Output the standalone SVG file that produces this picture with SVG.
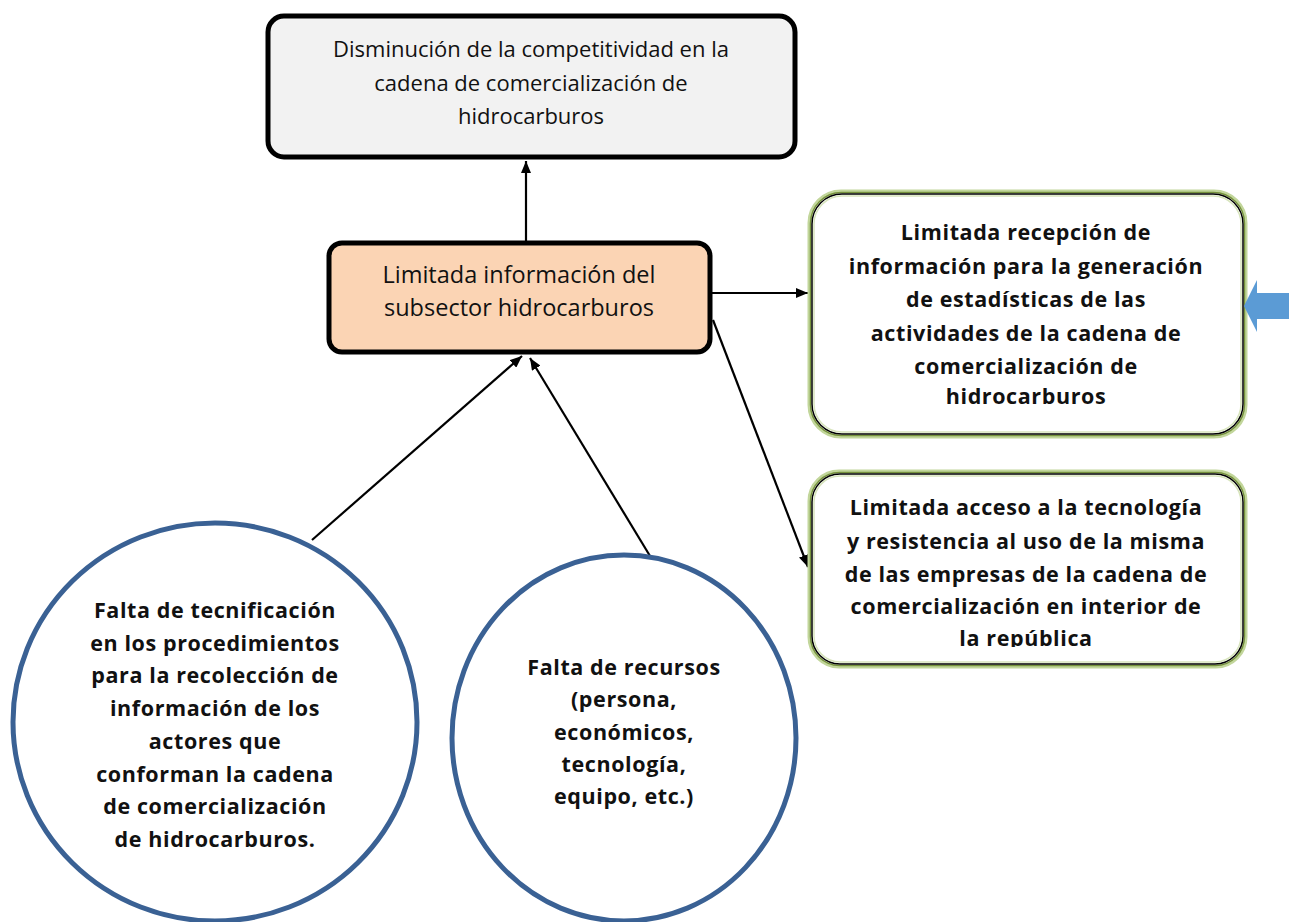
<svg xmlns="http://www.w3.org/2000/svg" width="1289" height="922" viewBox="0 0 1289 922">
<style>
.t{font-family:"Open Sans","Liberation Sans",sans-serif;font-size:22px;fill:#111;text-anchor:middle}
.tc{font-size:23.5px}
.b{font-family:"Open Sans","Liberation Sans",sans-serif;font-size:21.5px;letter-spacing:0.6px;font-weight:bold;fill:#111;text-anchor:middle}
.cn{fill:none;stroke:#000;stroke-width:2.2}
.circ{fill:#fff;stroke:#3a6194;stroke-width:5}
</style>
<defs>
<marker id="ah" viewBox="0 0 12 10" refX="12" refY="5" markerWidth="12" markerHeight="10" markerUnits="userSpaceOnUse" orient="auto">
<path d="M0,0 L12,5 L0,10 z" fill="#000"/>
</marker>
<clipPath id="clip2"><rect x="800" y="460" width="460" height="187"/></clipPath>
</defs>

<g id="connectors">
<line class="cn" x1="526" y1="241" x2="526" y2="161" marker-end="url(#ah)"/>
<line class="cn" x1="711" y1="293" x2="808" y2="293" marker-end="url(#ah)"/>
<line class="cn" x1="713" y1="320" x2="808" y2="567" marker-end="url(#ah)"/>
<line class="cn" x1="312" y1="540" x2="522" y2="356" marker-end="url(#ah)"/>
<line class="cn" x1="650" y1="556" x2="530" y2="358" marker-end="url(#ah)"/>
</g>

<g id="top">
<rect x="268" y="16" width="527" height="141" rx="16" fill="#f2f2f2" stroke="#000" stroke-width="5"/>
<text class="t" x="531" y="57">Disminución de la competitividad en la</text>
<text class="t" x="531" y="91">cadena de comercialización de</text>
<text class="t" x="531" y="124">hidrocarburos</text>
</g>

<g id="center">
<rect x="329" y="243" width="381" height="109" rx="13" fill="#fbd4b4" stroke="#000" stroke-width="5"/>
<text class="t tc" x="519" y="283">Limitada información del</text>
<text class="t tc" x="519" y="316">subsector hidrocarburos</text>
</g>

<g id="effect1">
<rect x="809" y="191" width="437" height="246" rx="32" fill="#fff" stroke="#c2d69b" stroke-width="3"/>
<rect x="810.5" y="192.5" width="434" height="243" rx="31" fill="none" stroke="#76923c" stroke-width="1.5"/>
<rect x="812" y="194" width="431" height="240" rx="30" fill="none" stroke="#000" stroke-width="1.5"/>
<rect x="814" y="196" width="427" height="236" rx="28" fill="none" stroke="#d7e4bc" stroke-width="1.5"/>
<text class="b" x="1026" y="240">Limitada recepción de</text>
<text class="b" x="1026" y="274">información para la generación</text>
<text class="b" x="1026" y="307">de estadísticas de las</text>
<text class="b" x="1026" y="341">actividades de la cadena de</text>
<text class="b" x="1026" y="374">comercialización de</text>
<text class="b" x="1026" y="404">hidrocarburos</text>
</g>

<g id="effect2">
<rect x="809" y="471" width="437" height="196" rx="30" fill="#fff" stroke="#c2d69b" stroke-width="3"/>
<rect x="810.5" y="472.5" width="434" height="193" rx="29" fill="none" stroke="#76923c" stroke-width="1.5"/>
<rect x="812" y="474" width="431" height="190" rx="28" fill="none" stroke="#000" stroke-width="1.5"/>
<rect x="814" y="476" width="427" height="186" rx="26" fill="none" stroke="#d7e4bc" stroke-width="1.5"/>
<g clip-path="url(#clip2)">
<text class="b" x="1026" y="515">Limitada acceso a la tecnología</text>
<text class="b" x="1026" y="549">y resistencia al uso de la misma</text>
<text class="b" x="1026" y="582">de las empresas de la cadena de</text>
<text class="b" x="1026" y="614">comercialización en interior de</text>
<text class="b" x="1026" y="646">la república</text>
</g>
</g>

<g id="blue-arrow">
<path d="M1244,306 L1257,280 L1257,293 L1289,293 L1289,319 L1257,319 L1257,332 z" fill="#5b9bd5"/>
</g>

<g id="cause1">
<ellipse class="circ" cx="215" cy="722" rx="202" ry="199"/>
<text class="b" x="215" y="618">Falta de tecnificación</text>
<text class="b" x="215" y="651">en los procedimientos</text>
<text class="b" x="215" y="683">para la recolección de</text>
<text class="b" x="215" y="716">información de los</text>
<text class="b" x="215" y="749">actores que</text>
<text class="b" x="215" y="782">conforman la cadena</text>
<text class="b" x="215" y="814">de comercialización</text>
<text class="b" x="215" y="847">de hidrocarburos.</text>
</g>

<g id="cause2">
<ellipse class="circ" cx="624" cy="738" rx="172" ry="183"/>
<text class="b" x="624" y="675">Falta de recursos</text>
<text class="b" x="624" y="707">(persona,</text>
<text class="b" x="624" y="740">económicos,</text>
<text class="b" x="624" y="772">tecnología,</text>
<text class="b" x="624" y="804">equipo, etc.)</text>
</g>
</svg>
